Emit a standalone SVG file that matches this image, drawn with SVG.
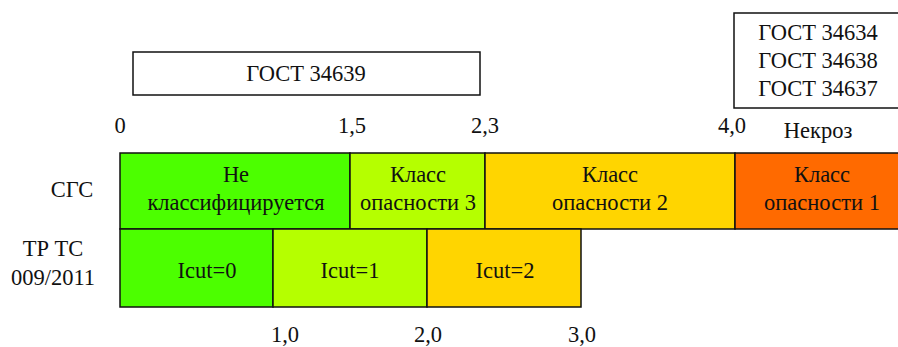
<svg xmlns="http://www.w3.org/2000/svg" width="898" height="347" viewBox="0 0 898 347">
  <style>
    text { font-size: 22.5px; fill: #111; text-anchor: middle; }
    .box { fill: #fff; stroke: #111; stroke-width: 1.5; }
    .cell { stroke: #111; stroke-width: 1.5; }
    .g0 { fill: #4CFF00; }
    .g1 { fill: #B5FF00; }
    .g2 { fill: #FFD500; }
    .g3 { fill: #FF6A00; }
  </style>
  <rect width="898" height="347" fill="#fff"/>

  <g font-family="Liberation Serif, Times New Roman, Times, DejaVu Serif, Noto Serif, serif">
  <!-- standards boxes -->
  <g id="gost-34639">
    <rect class="box" x="133" y="52" width="347" height="43"/>
    <text x="306" y="81">ГОСТ 34639</text>
  </g>
  <g id="gost-group">
    <rect class="box" x="734" y="13" width="180" height="95"/>
    <text x="818" y="40">ГОСТ 34634</text>
    <text x="818" y="68">ГОСТ 34638</text>
    <text x="818" y="96">ГОСТ 34637</text>
  </g>

  <!-- upper scale -->
  <g id="scale-top">
    <text x="120" y="133">0</text>
    <text x="352" y="133">1,5</text>
    <text x="485" y="133">2,3</text>
    <text x="732" y="133">4,0</text>
    <text x="818" y="138">Некроз</text>
  </g>

  <!-- row labels -->
  <g id="labels">
    <text x="72" y="197">СГС</text>
    <text x="53" y="256">ТР ТС</text>
    <text x="53" y="285">009/2011</text>
  </g>

  <!-- GHS classes -->
  <g id="ghs-none">
    <rect class="cell g0" x="120" y="153" width="230" height="76"/>
    <text x="236" y="182">Не</text>
    <text x="236" y="210">классифицируется</text>
  </g>
  <g id="ghs-3">
    <rect class="cell g1" x="350" y="153" width="135" height="76"/>
    <text x="418" y="182">Класс</text>
    <text x="418" y="210">опасности 3</text>
  </g>
  <g id="ghs-2">
    <rect class="cell g2" x="485" y="153" width="250" height="76"/>
    <text x="610" y="182">Класс</text>
    <text x="610" y="210">опасности 2</text>
  </g>
  <g id="ghs-1">
    <rect class="cell g3" x="735" y="153" width="180" height="76"/>
    <text x="822" y="182">Класс</text>
    <text x="822" y="210">опасности 1</text>
  </g>

  <!-- TR CU Icut levels -->
  <g id="icut-0">
    <rect class="cell g0" x="120" y="229" width="153" height="78"/>
    <text x="207" y="278">Icut=0</text>
  </g>
  <g id="icut-1">
    <rect class="cell g1" x="273" y="229" width="154" height="78"/>
    <text x="350" y="278">Icut=1</text>
  </g>
  <g id="icut-2">
    <rect class="cell g2" x="427" y="229" width="154" height="78"/>
    <text x="505" y="278">Icut=2</text>
  </g>

  <!-- lower scale -->
  <g id="scale-bottom">
    <text x="285" y="342">1,0</text>
    <text x="428" y="342">2,0</text>
    <text x="582" y="342">3,0</text>
  </g>
  </g>
</svg>
